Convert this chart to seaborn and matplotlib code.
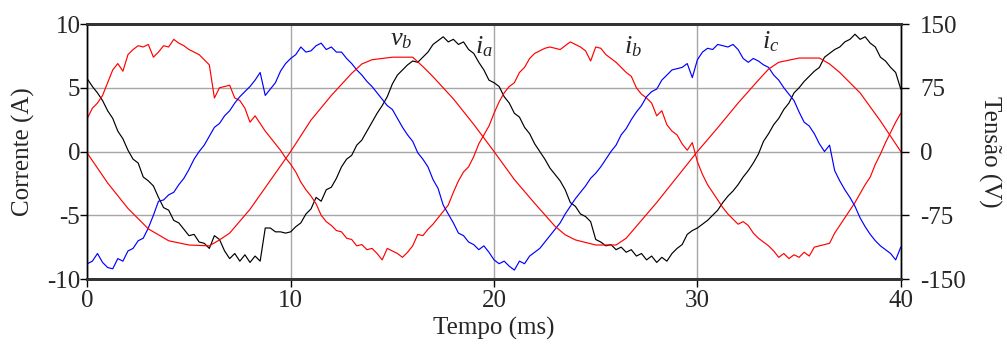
import numpy as np
import pandas as pd
import matplotlib
matplotlib.use("Agg")
import matplotlib.pyplot as plt
import seaborn as sns

# time base of the sampled currents (ms)
t_ms = np.arange(0, 40.001, 0.25)

# phase currents (A), one value every 0.25 ms
i_a = [5.7, 5.1, 4.6, 4.0, 3.2, 2.6, 1.6, 1.0,
       0.1, -0.6, -0.9, -2.0, -2.3, -2.7, -3.6, -4.4,
       -4.6, -5.4, -5.6, -6.1, -6.6, -6.5, -7.1, -7.2,
       -7.6, -6.6, -6.9, -7.8, -8.4, -8.0, -8.6, -8.1,
       -8.7, -8.2, -8.6, -6.0, -6.0, -6.3, -6.3, -6.4,
       -6.3, -5.9, -5.6, -4.9, -4.5, -3.6, -3.9, -3.0,
       -2.8, -2.1, -1.2, -0.6, -0.3, 0.5, 0.9, 1.6,
       2.3, 3.0, 3.6, 4.3, 5.3, 6.0, 6.4, 6.8,
       7.1, 7.0, 7.4, 7.8, 8.4, 8.7, 9.0, 8.6,
       8.8, 8.4, 8.6, 8.0, 7.7, 7.0, 6.4, 5.6,
       5.4, 5.1, 4.3, 3.8, 3.0, 2.7, 1.9, 1.4,
       0.6, 0.0, -0.6, -1.3, -1.8, -2.3, -3.0, -4.0,
       -4.3, -4.9, -5.1, -5.5, -6.9, -7.1, -7.4, -7.3,
       -7.7, -7.5, -7.9, -7.7, -8.2, -8.0, -8.5, -8.2,
       -8.7, -8.3, -8.6, -8.0, -7.6, -7.3, -6.5, -6.2,
       -6.0, -5.7, -5.4, -5.0, -4.6, -4.0, -3.5, -3.1,
       -2.6, -2.0, -1.5, -0.9, -0.2, 0.8, 1.4, 2.1,
       2.6, 3.3, 3.8, 4.6, 5.0, 5.5, 5.9, 6.3,
       6.6, 7.4, 7.7, 8.0, 8.2, 8.6, 8.8, 9.2,
       8.8, 9.0, 8.5, 8.2, 7.4, 7.1, 6.6, 6.2,
       4.9]

i_b = [2.6, 3.4, 3.8, 4.4, 5.4, 6.4, 6.9, 6.3,
       7.6, 8.0, 8.3, 8.2, 8.4, 7.4, 7.8, 8.3,
       8.2, 8.8, 8.5, 8.3, 8.0, 7.8, 7.6, 7.2,
       6.8, 4.2, 5.0, 5.1, 5.2, 4.2, 4.0, 3.4,
       2.3, 2.8, 2.2, 1.6, 1.1, 0.6, 0.1, -0.5,
       -1.0, -1.6, -2.4, -3.0, -3.5, -4.1, -5.0, -5.5,
       -5.8, -6.2, -6.3, -6.8, -6.9, -7.4, -7.3, -7.7,
       -7.6, -8.0, -8.5, -7.6, -7.8, -8.0, -8.3, -7.9,
       -7.4, -6.5, -6.6, -6.1, -5.7, -5.2, -4.7, -4.2,
       -3.2, -2.3, -1.6, -1.2, -0.4, 0.6, 1.3, 2.0,
       3.0, 3.9, 4.6, 5.1, 5.4, 6.2, 6.6, 7.3,
       7.7, 7.9, 8.1, 8.2, 8.1, 8.0, 8.3, 8.6,
       8.4, 8.2, 7.9, 7.1, 8.2, 8.1, 7.6, 7.3,
       7.0, 6.6, 6.2, 5.9, 5.0, 4.5, 4.2, 3.8,
       2.8, 3.2, 2.1, 1.6, 1.3, 0.6, 0.1, 0.7,
       -0.8, -1.8, -2.6, -3.2, -3.8, -4.4, -4.9, -5.3,
       -5.7, -5.5, -5.8, -6.4, -6.8, -7.1, -7.4, -7.8,
       -8.3, -8.0, -8.4, -8.1, -8.3, -7.9, -8.2, -7.5,
       -7.4, -7.3, -7.2, -6.4, -5.8, -5.2, -4.6, -4.0,
       -3.3, -2.6, -2.0, -1.0, -0.2, 0.7, 1.5, 2.3,
       3.0]

i_c = [-8.8, -8.6, -8.0, -8.7, -9.1, -9.2, -8.4, -8.6,
       -7.8, -7.6, -7.0, -6.8, -6.0, -5.0, -3.9, -3.8,
       -3.4, -3.2, -2.6, -2.1, -1.4, -0.6, 0.0, 0.5,
       1.2, 1.9, 2.2, 2.8, 3.2, 3.8, 4.3, 4.7,
       5.1, 5.6, 6.2, 4.4, 4.9, 5.4, 6.3, 6.9,
       7.3, 7.6, 8.2, 7.8, 7.9, 8.3, 8.5, 8.0,
       8.2, 7.8, 7.8, 7.3, 6.9, 6.4, 6.0, 5.5,
       5.1, 4.6, 4.1, 3.6, 3.3, 2.6, 1.9, 1.3,
       0.8, -0.1, -0.6, -1.2, -2.2, -2.9, -4.2, -4.9,
       -5.6, -6.4, -6.6, -7.1, -7.3, -7.7, -7.4, -7.9,
       -8.5, -8.8, -8.6, -9.0, -9.3, -8.6, -8.8, -8.2,
       -7.9, -7.6, -7.1, -6.6, -6.1, -5.6, -4.9, -4.3,
       -3.7, -3.2, -2.7, -2.1, -1.7, -1.2, -0.6, 0.0,
       0.5, 1.3, 1.8, 2.5, 3.1, 3.6, 4.3, 4.7,
       4.9, 5.6, 6.0, 6.4, 6.5, 6.6, 6.9, 5.8,
       7.2, 7.8, 8.1, 8.0, 8.4, 8.3, 8.2, 8.4,
       8.0, 7.3, 7.0, 7.3, 7.1, 6.8, 6.6, 6.0,
       5.6, 5.0, 4.5, 4.0, 3.1, 2.3, 2.0, 1.4,
       0.6, 0.0, 0.5, -1.5, -2.3, -3.0, -3.6, -4.3,
       -5.2, -5.9, -6.5, -7.0, -7.4, -7.7, -8.0, -8.5,
       -7.5]

# phase voltage v_b (V), right axis
t_v = [0, 1, 2, 3, 4, 5, 6, 6.5, 7, 8, 9, 10, 11, 12, 13, 13.5, 14, 15, 16,
       16.5, 17, 18, 19, 20, 21, 22, 23, 23.5, 24, 25, 26, 26.5, 27, 28, 29,
       30, 31, 32, 33, 33.5, 34, 35, 36, 36.5, 37, 38, 39, 40]
v_b = [-2, -37, -67, -91, -105, -110, -111, -104, -96, -68, -34, 0, 37, 66,
       92, 103, 108, 111, 111, 100, 88, 62, 32, 0, -33, -61, -88, -98, -104,
       -110, -110, -102, -88, -60, -30, 0, 28, 57, 84, 97, 105, 110, 110,
       103, 93, 69, 36, 0]

x_ticks = [0, 10, 20, 30, 40]
i_ticks = [-10, -5, 0, 5, 10]
v_ticks = [-150, -75, 0, 75, 150]

sns.set_style("ticks")
plt.rcParams["font.family"] = ["Liberation Serif", "DejaVu Serif"]
plt.rcParams["mathtext.fontset"] = "custom"
plt.rcParams["mathtext.rm"] = "Liberation Serif"
plt.rcParams["mathtext.it"] = "Liberation Serif:italic"
plt.rcParams["axes.unicode_minus"] = False

currents = pd.DataFrame({"t": t_ms, "ia": i_a, "ib": i_b, "ic": i_c})
voltage = pd.DataFrame({"t": t_v, "vb": v_b})

fig = plt.figure(figsize=(10.07, 3.45), dpi=100)
ax = fig.add_axes([0.0867, 0.1913, 0.8078, 0.739])

for col, colour in [("ia", "black"), ("ib", "#ff0000"), ("ic", "#0000ff")]:
    sns.lineplot(data=currents, x="t", y=col, ax=ax, color=colour,
                 linewidth=0.85, estimator=None, sort=False)

ax.set_xlim(0, 40)
ax.set_ylim(-10, 10)
ax.set_xticks(x_ticks)
ax.set_yticks(i_ticks)
ax.grid(True, color="#a6a6a6", linewidth=1.0)
ax.set_axisbelow(True)
ax.tick_params(axis="both", labelsize=18, direction="out", width=1,
               color="black")
ax.tick_params(axis="y", length=5, pad=0)
ax.tick_params(axis="x", length=6, pad=2)
ax.set_xlabel("Tempo (ms)", fontsize=18)
ax.set_ylabel("Corrente (A)", fontsize=18)
ax.xaxis.set_label_coords(0.5, -0.148)
ax.yaxis.set_label_coords(-0.064, 0.5)

ax2 = ax.twinx()
sns.lineplot(data=voltage, x="t", y="vb", ax=ax2, color="#ff0000",
             linewidth=0.85, estimator=None, sort=False)
ax2.set_ylim(-150, 150)
ax2.set_yticks(v_ticks)
ax2.tick_params(axis="y", labelsize=18, direction="out", length=6,
                width=1, pad=8, color="black")
ax2.set_ylabel("Tensão (V)", fontsize=18, rotation=270, va="center")
ax2.yaxis.set_label_coords(1.109, 0.5)
ax2.set_xlim(0, 40)

for a in (ax, ax2):
    a.spines["top"].set_linewidth(2)
    a.spines["top"].set_color("#333333")
    a.spines["bottom"].set_linewidth(2)
    a.spines["bottom"].set_color("#333333")
    a.spines["left"].set_linewidth(1)
    a.spines["left"].set_color("black")
    a.spines["right"].set_linewidth(1)
    a.spines["right"].set_color("black")

# curve labels
ax.text(14.9, 8.36, "$v_b$", fontsize=19)
ax.text(19.05, 7.73, "$i_a$", fontsize=19)
ax.text(26.4, 7.73, "$i_b$", fontsize=19)
ax.text(33.2, 8.12, "$i_c$", fontsize=19)

fig.savefig("out.png", dpi=100)
